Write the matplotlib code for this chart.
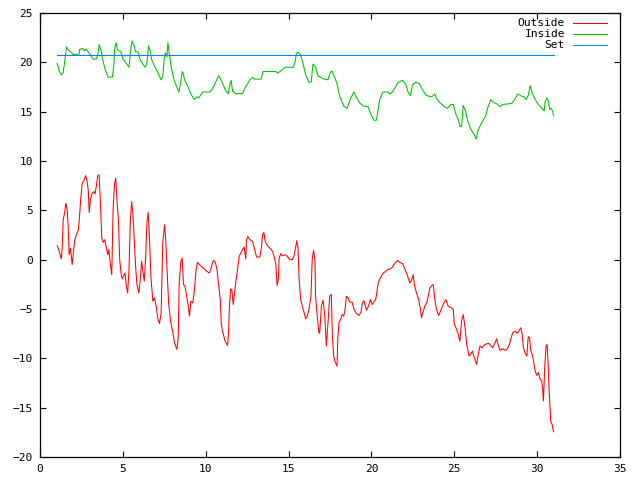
import matplotlib
matplotlib.use("Agg")
import matplotlib.pyplot as plt

# Outside temperature (red)
outside_t = [1.04, 1.12, 1.2, 1.28, 1.34, 1.4, 1.48, 1.56, 1.64, 1.7, 1.76, 1.84, 1.94, 2.0, 2.1, 2.2,
             2.32, 2.4, 2.46, 2.55, 2.65, 2.75, 2.83, 2.91, 2.97, 3.05, 3.15, 3.25, 3.33, 3.41, 3.49, 3.57,
             3.65, 3.73, 3.81, 3.91, 4.01, 4.09, 4.15, 4.25, 4.33, 4.41, 4.49, 4.57, 4.65, 4.73, 4.81, 4.89,
             4.95, 5.13, 5.21, 5.29, 5.37, 5.45, 5.53, 5.61, 5.69, 5.77, 5.85, 5.97, 6.05, 6.13, 6.21, 6.29,
             6.37, 6.45, 6.53, 6.61, 6.69, 6.81, 6.91, 7.01, 7.11, 7.21, 7.31, 7.41, 7.52, 7.58, 7.66, 7.76,
             7.88, 8.02, 8.12, 8.26, 8.34, 8.4, 8.5, 8.58, 8.66, 8.74, 8.82, 8.92, 9.02, 9.1, 9.22, 9.32,
             9.42, 9.5, 9.62, 9.74, 9.92, 10.06, 10.22, 10.34, 10.46, 10.58, 10.68, 10.78, 10.88, 10.94, 11.02, 11.14,
             11.22, 11.32, 11.38, 11.42, 11.5, 11.58, 11.66, 11.74, 11.82, 11.92, 12.02, 12.12, 12.22, 12.32, 12.42, 12.46,
             12.54, 12.67, 12.83, 12.93, 13.07, 13.27, 13.37, 13.43, 13.51, 13.59, 13.73, 13.93, 14.03, 14.13, 14.23, 14.31,
             14.39, 14.43, 14.53, 14.63, 14.77, 14.93, 15.07, 15.23, 15.33, 15.43, 15.49, 15.57, 15.63, 15.73, 15.83, 15.95,
             16.03, 16.13, 16.23, 16.35, 16.43, 16.51, 16.59, 16.63, 16.73, 16.83, 16.88, 16.98, 17.08, 17.18, 17.28, 17.38,
             17.48, 17.58, 17.64, 17.72, 17.82, 17.92, 17.98, 18.04, 18.14, 18.23, 18.33, 18.41, 18.49, 18.59, 18.69, 18.83,
             18.95, 19.09, 19.25, 19.37, 19.45, 19.55, 19.7, 19.82, 19.94, 20.04, 20.14, 20.26, 20.34, 20.42, 20.54, 20.71,
             20.81, 20.97, 21.11, 21.23, 21.35, 21.47, 21.57, 21.71, 21.88, 22.02, 22.12, 22.22, 22.32, 22.42, 22.52, 22.6,
             22.72, 22.84, 22.96, 23.02, 23.13, 23.23, 23.33, 23.43, 23.53, 23.63, 23.73, 23.83, 23.93, 24.05, 24.17, 24.33,
             24.49, 24.63, 24.83, 24.94, 25.0, 25.14, 25.24, 25.34, 25.44, 25.54, 25.65, 25.75, 25.89, 25.99, 26.09, 26.19,
             26.35, 26.45, 26.55, 26.67, 26.85, 27.06, 27.2, 27.32, 27.46, 27.56, 27.66, 27.76, 27.92, 28.06, 28.21, 28.33,
             28.41, 28.53, 28.67, 28.81, 28.93, 29.01, 29.09, 29.17, 29.27, 29.38, 29.46, 29.54, 29.62, 29.7, 29.78, 29.88,
             29.98, 30.08, 30.18, 30.28, 30.34, 30.38, 30.46, 30.54, 30.6, 30.66, 30.72, 30.78, 30.82, 30.9, 30.99]
outside_c = [1.41, 1.08, 0.57, 0.07, 1.18, 4.04, 4.71, 5.72, 5.05, 3.37, 0.5, 1.18, -0.5, 0.5, 2.02, 2.53,
             3.03, 4.71, 6.23, 7.74, 8.01, 8.52, 8.08, 7.07, 4.78, 6.13, 6.73, 6.9, 6.67, 7.58, 8.55, 8.59,
             5.56, 2.19, 1.75, 2.02, 1.18, 0.5, 1.01, -0.5, -1.52, 5.05, 7.58, 8.25, 5.89, 4.04, 0.0, -1.35,
             -1.95, -1.35, -2.69, -3.37, -1.01, 3.87, 5.89, 4.55, 1.85, -0.67, -2.53, -3.37, -2.02, -0.17, -1.18, -2.19,
             0.0, 3.7, 4.78, 2.02, -1.68, -4.21, -3.87, -4.71, -5.99, -6.46, -5.39, 1.85, 3.54, 2.19, -0.67, -4.38,
             -6.23, -7.41, -8.42, -9.09, -7.91, -2.36, -0.17, 0.17, -2.53, -2.63, -3.37, -4.38, -5.72, -4.21, -4.38, -3.03,
             -1.01, -0.27, -0.5, -0.67, -0.94, -1.18, -1.35, -0.74, -0.07, -0.27, -1.01, -2.53, -4.04, -6.57, -7.24, -8.08,
             -8.42, -8.69, -7.34, -5.05, -2.96, -3.1, -4.55, -3.37, -2.19, -1.01, 0.34, 0.67, 1.01, 1.28, 0.07, 2.02,
             2.36, 2.02, 1.85, 1.18, 0.27, 0.27, 1.35, 2.53, 2.76, 1.85, 1.41, 1.08, 0.84, 0.34, -0.5, -2.63,
             -1.85, 0.17, 0.61, 0.4, 0.5, 0.34, 0.0, 0.0, 0.4, 1.28, 1.92, 1.18, -1.85, -4.04, -4.71, -5.45,
             -5.99, -5.72, -5.05, -3.7, 0.17, 0.94, 0.0, -3.7, -5.72, -7.41, -7.41, -4.71, -4.11, -5.56, -8.75, -6.4,
             -3.7, -3.54, -7.58, -9.76, -10.44, -10.77, -7.74, -6.4, -6.06, -5.56, -5.72, -5.05, -3.7, -3.87, -4.28, -4.31,
             -5.05, -5.45, -5.66, -5.32, -4.38, -4.14, -5.12, -4.71, -4.04, -4.55, -4.31, -4.04, -3.2, -2.29, -1.85, -1.35,
             -1.25, -1.01, -0.94, -0.84, -0.5, -0.27, -0.07, -0.27, -0.4, -0.94, -1.35, -1.85, -2.36, -2.09, -1.52, -2.63,
             -3.37, -3.97, -5.05, -5.89, -5.22, -4.65, -4.44, -3.7, -2.86, -2.63, -2.53, -4.04, -5.05, -5.66, -5.22, -4.55,
             -4.04, -4.71, -4.88, -5.05, -6.46, -7.07, -7.58, -8.25, -6.23, -5.56, -6.9, -8.59, -9.76, -9.6, -9.26, -9.83,
             -10.61, -9.6, -8.75, -8.92, -8.59, -8.48, -8.69, -8.92, -8.42, -8.01, -8.69, -9.19, -9.02, -9.19, -9.02, -8.59,
             -8.01, -7.41, -7.24, -7.47, -7.14, -6.9, -7.41, -8.92, -9.43, -9.76, -7.81, -7.91, -9.26, -9.6, -10.27, -11.28,
             -11.72, -11.45, -12.12, -12.29, -13.3, -14.31, -10.77, -8.75, -8.59, -10.44, -13.13, -14.98, -16.43, -16.67, -17.44]

# Inside temperature (green)
inside_t = [1.04, 1.14, 1.28, 1.4, 1.5, 1.6, 1.72, 1.9, 2.0, 2.36, 2.4, 2.57, 2.67, 2.77, 2.9, 3.05,
            3.2, 3.4, 3.5, 3.57, 3.67, 3.77, 3.91, 4.11, 4.37, 4.45, 4.51, 4.59, 4.67, 4.87, 5.01, 5.17,
            5.37, 5.45, 5.55, 5.67, 5.77, 5.91, 6.05, 6.21, 6.35, 6.45, 6.55, 6.65, 6.75, 6.91, 7.11, 7.31,
            7.41, 7.49, 7.57, 7.66, 7.72, 7.8, 7.92, 8.06, 8.22, 8.38, 8.52, 8.58, 8.66, 8.72, 8.92, 9.12,
            9.32, 9.46, 9.58, 9.68, 9.82, 10.26, 10.42, 10.58, 10.78, 10.92, 11.08, 11.22, 11.36, 11.46, 11.54, 11.62,
            11.82, 12.22, 12.42, 12.67, 12.83, 12.93, 13.33, 13.47, 14.23, 14.33, 14.53, 14.79, 15.27, 15.39, 15.47, 15.57,
            15.73, 15.87, 16.03, 16.23, 16.37, 16.47, 16.63, 16.79, 16.87, 17.08, 17.38, 17.52, 17.62, 17.84, 17.94, 18.08,
            18.33, 18.53, 18.73, 18.95, 19.09, 19.29, 19.5, 19.8, 19.96, 20.16, 20.3, 20.5, 20.7, 21.0, 21.11, 21.27,
            21.61, 21.87, 22.08, 22.22, 22.36, 22.48, 22.68, 22.89, 23.13, 23.33, 23.63, 23.83, 23.93, 24.14, 24.4, 24.6,
            24.78, 24.94, 25.1, 25.24, 25.34, 25.44, 25.54, 25.68, 25.81, 25.99, 26.19, 26.32, 26.46, 26.66, 26.9, 27.02,
            27.2, 27.32, 27.56, 27.76, 27.92, 28.47, 28.67, 28.83, 29.07, 29.21, 29.33, 29.46, 29.58, 29.72, 29.88, 30.08,
            30.28, 30.42, 30.48, 30.58, 30.69, 30.75, 30.85, 30.93, 30.99]
inside_c = [19.9, 19.23, 18.73, 18.97, 20.2, 21.57, 21.23, 21.0, 20.8, 20.83, 21.33, 21.4, 21.17, 21.37, 21.07, 20.73,
            20.33, 20.33, 20.9, 21.8, 21.3, 20.4, 19.4, 18.5, 18.5, 19.57, 21.4, 22.0, 21.3, 21.07, 20.3, 19.97,
            19.5, 20.9, 22.17, 21.73, 21.07, 21.07, 20.23, 19.8, 19.5, 19.9, 21.67, 21.17, 20.23, 19.63, 18.97, 18.23,
            18.57, 20.23, 20.97, 20.57, 22.0, 20.9, 19.57, 18.4, 17.63, 17.0, 18.23, 19.07, 18.8, 18.23, 17.57, 16.73,
            16.23, 16.5, 16.4, 16.63, 17.0, 17.0, 17.33, 17.9, 18.67, 18.23, 17.63, 17.07, 16.83, 17.73, 18.17, 17.07,
            16.83, 16.83, 17.57, 18.23, 18.47, 18.3, 18.3, 19.07, 19.07, 18.9, 19.13, 19.5, 19.5, 19.97, 20.9, 21.03,
            20.73, 19.9, 18.73, 18.0, 18.0, 19.83, 19.5, 18.57, 18.57, 18.33, 18.23, 19.0, 19.13, 18.23, 17.73, 16.57,
            15.57, 15.33, 16.3, 17.0, 16.47, 15.9, 15.57, 15.5, 14.73, 14.13, 14.13, 16.23, 17.0, 17.0, 16.8, 17.0,
            17.97, 18.17, 17.73, 16.97, 16.63, 17.73, 18.0, 17.83, 17.07, 16.63, 16.5, 16.8, 16.33, 15.9, 15.5, 15.33,
            15.73, 15.73, 14.73, 14.23, 13.5, 13.5, 15.63, 15.07, 14.07, 13.23, 12.73, 12.23, 13.23, 13.9, 14.57, 15.4,
            16.23, 16.0, 15.8, 15.5, 15.73, 15.83, 16.3, 16.8, 16.57, 16.5, 16.23, 16.63, 17.63, 16.8, 16.23, 15.73,
            15.33, 15.07, 15.97, 16.4, 16.07, 15.23, 15.33, 15.07, 14.63]

# Set point (blue)
set_t = [1.0, 31.0]
set_c = [20.7, 20.7]

series_labels = ["Outside", "Inside", "Set"]
series_colors = ["#ff0000", "#00c000", "#0080ff"]

x_ticks = [0, 5, 10, 15, 20, 25, 30, 35]
y_ticks = [-20, -15, -10, -5, 0, 5, 10, 15, 20, 25]

plt.rcParams["font.family"] = "DejaVu Sans Mono"

fig = plt.figure(figsize=(6.4, 4.8), dpi=100)
ax = fig.add_axes([0.0625, 0.0479, 0.90625, 0.925])

lines = [(outside_t, outside_c), (inside_t, inside_c), (set_t, set_c)]
for (t, c), col in zip(lines, series_colors):
    ax.plot(t, c, color=col, linewidth=0.75)

ax.set_xlim(0, 35)
ax.set_ylim(-20, 25)
ax.set_xticks(x_ticks)
ax.set_yticks(y_ticks)
ax.tick_params(direction="in", length=4, width=0.8, top=True, right=True,
               labelsize=8, pad=5, colors="black")
for sp in ax.spines.values():
    sp.set_linewidth(0.9)

# gnuplot style key: right-aligned text, sample line after it
key_y = [0.977, 0.952, 0.927]
for lab, col, ky in zip(series_labels, series_colors, key_y):
    ax.text(0.905, ky, lab, transform=ax.transAxes, ha="right", va="center", fontsize=8.1)
    ax.plot([0.919, 0.978], [ky, ky], transform=ax.transAxes, color=col, linewidth=0.75, clip_on=False)

fig.savefig("out.png", dpi=100)
